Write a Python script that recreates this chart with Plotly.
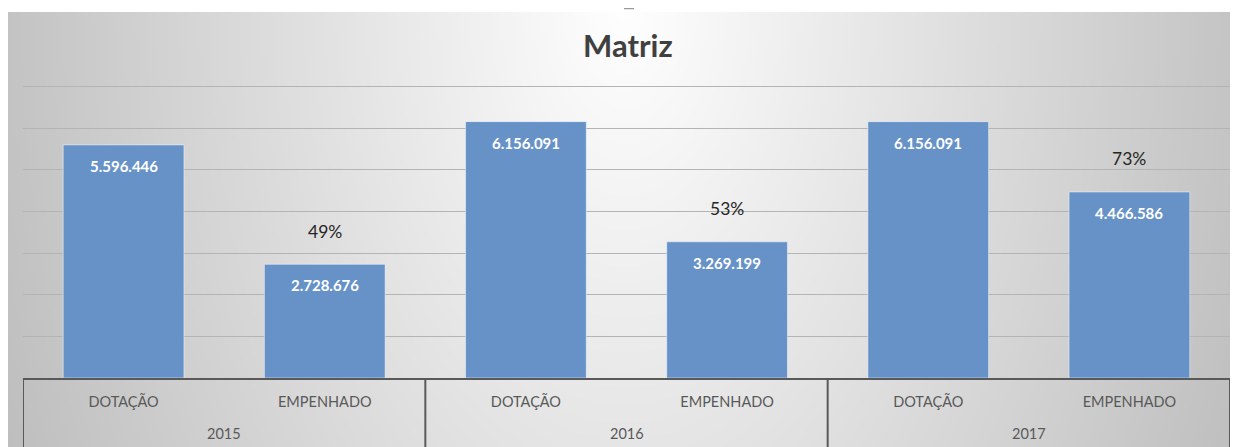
import base64, struct, zlib
import numpy as np
import plotly.graph_objects as go

# ---- data ----
years = ["2015", "2016", "2017"]
categories = ["DOTAÇÃO", "EMPENHADO", "DOTAÇÃO", "EMPENHADO", "DOTAÇÃO", "EMPENHADO"]
values = [5596446, 2728676, 6156091, 3269199, 6156091, 4466586]
pct_labels = ["49%", "53%", "73%"]
pct_index = [1, 3, 5]
title_text = "Matriz"

# page body has an 8px margin: figure origin sits at screen (8, 8)
FW, FH = 1230, 439
L, R, T, B = 15, 1222, 41, 370
PW, PH = R - L, B - T

# ---- background radial gradient image (styling only) ----
W, H = 1230, 435
X0, Y0 = 0, 4
def make_png(arr):
    h, w = arr.shape
    raw = b"".join(b"\x00" + arr[r].tobytes() for r in range(h))
    def chunk(t, d):
        c = struct.pack(">I", len(d)) + t + d
        return c + struct.pack(">I", zlib.crc32(t + d) & 0xffffffff)
    png = b"\x89PNG\r\n\x1a\n" + chunk(b"IHDR", struct.pack(">IIBBBBB", w, h, 8, 0, 0, 0, 0))
    png += chunk(b"IDAT", zlib.compress(raw, 9)) + chunk(b"IEND", b"")
    return "data:image/png;base64," + base64.b64encode(png).decode()

sw, sh = W // 3, H // 3
xs = X0 + (np.arange(sw) + 0.5) * W / sw
ys = Y0 + (np.arange(sh) + 0.5) * H / sh
XX, YY = np.meshgrid(xs, ys)
t = np.sqrt(((XX - 617) / 615) ** 2 + ((YY + 3) / 1030) ** 2)
g = np.clip(255 - 59 * t, 180, 255).astype(np.uint8)
bg_src = make_png(g)

def fmt(v):
    return f"{v:,}".replace(",", ".")

xpos = list(range(len(values)))

fig = go.Figure()
fig.add_trace(go.Bar(
    x=xpos, y=values,
    marker=dict(color="#6692C8", line=dict(color="rgba(255,255,255,0.45)", width=1)),
    hoverinfo="skip",
))

ann = []
for i, v in zip(xpos, values):
    ann.append(dict(x=i, y=v, xref="x", yref="y", text=fmt(v), showarrow=False,
                    yshift=-21, yanchor="middle",
                    font=dict(family="Lato", size=15, color="white", weight="bold")))
for lab, i in zip(pct_labels, pct_index):
    ann.append(dict(x=i, y=values[i], xref="x", yref="y", text=lab, showarrow=False,
                    yshift=33, yanchor="middle",
                    font=dict(family="Lato", size=17.5, color="#262626")))
for k, yr in enumerate(years):
    ann.append(dict(x=2 * k + 0.5, y=(B - 425) / PH, xref="x", yref="paper", text=yr,
                    showarrow=False, yanchor="middle",
                    font=dict(family="Lato", size=14.5, color="#595959")))
ann.append(dict(x=0.5 + (620 - (L + R) / 2) / PW, y=(B - 37) / PH, xref="paper", yref="paper",
                text=title_text, showarrow=False, yanchor="middle",
                font=dict(family="Lato", size=31, color="#404040", weight="bold")))

shapes = [dict(type="line", xref="paper", yref="paper",
               x0=(616 - L) / PW, x1=(626 - L) / PW, y0=(B - 0.5) / PH, y1=(B - 0.5) / PH,
               line=dict(color="#9a9a9a", width=1.5))]
for xd in [-0.5, 1.5, 3.5, 5.5]:
    shapes.append(dict(type="line", xref="x", yref="paper", x0=xd, x1=xd,
                       y0=0, y1=-(FH - B) / PH, line=dict(color="#595959", width=2)))

fig.update_layout(
    width=FW, height=FH,
    margin=dict(l=L, r=FW - R, t=T, b=FH - B),
    paper_bgcolor="white", plot_bgcolor="rgba(0,0,0,0)",
    bargap=0.4, showlegend=False,
    annotations=ann, shapes=shapes,
    images=[dict(source=bg_src, xref="paper", yref="paper",
                 x=(X0 - L) / PW, y=(B - Y0) / PH, sizex=W / PW, sizey=H / PH,
                 xanchor="left", yanchor="top", sizing="stretch", layer="below")],
    xaxis=dict(range=[-0.5, 5.5], tickvals=xpos, ticktext=categories,
               showline=True, linecolor="#595959", linewidth=2, ticks="",
               showgrid=False, zeroline=False, ticklabelstandoff=10,
               tickfont=dict(family="Lato", size=14.5, color="#595959")),
    yaxis=dict(range=[0, 7.9e6], dtick=1e6, showticklabels=False, zeroline=False,
               gridcolor="#b4b4b4", gridwidth=1, showline=False),
)
fig.write_html("out.html")
